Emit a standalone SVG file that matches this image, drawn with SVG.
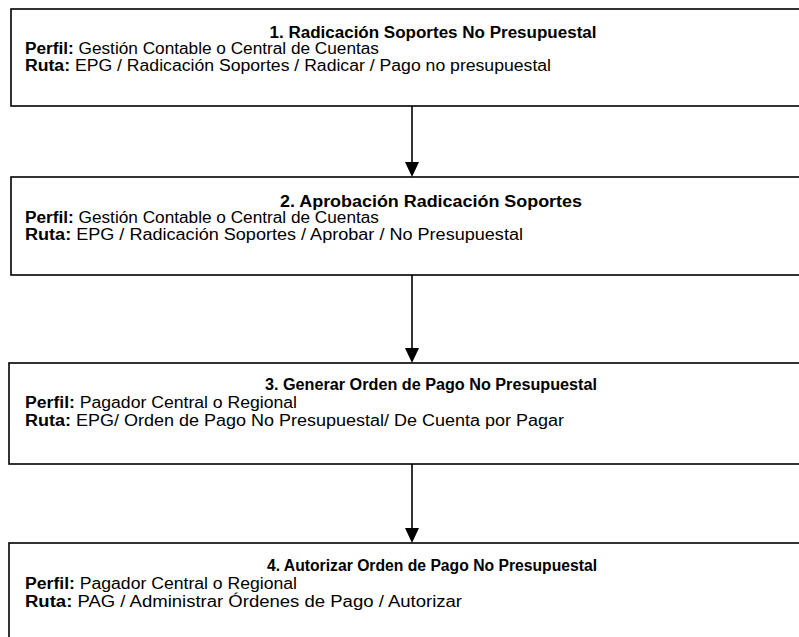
<svg xmlns="http://www.w3.org/2000/svg" width="799" height="637" viewBox="0 0 799 637">
<style>
.box{fill:#fff;stroke:#000;stroke-width:1.6}
text{font-family:"Liberation Sans",Arial,sans-serif;font-size:16px;fill:#000}
.t{font-weight:bold;text-anchor:middle}
.b{font-weight:bold}
.c{stroke:#000;stroke-width:1.6;fill:none}
</style>
<rect width="799" height="637" fill="#fff"/>
<g id="n1">
<rect class="box" x="11" y="9" width="900" height="97"/>
<text class="t" x="433" y="38" textLength="327" lengthAdjust="spacingAndGlyphs">1. Radicación Soportes No Presupuestal</text>
<text x="25" y="54" textLength="354" lengthAdjust="spacingAndGlyphs"><tspan class="b">Perfil:</tspan> Gestión Contable o Central de Cuentas</text>
<text x="25" y="71" textLength="526" lengthAdjust="spacingAndGlyphs"><tspan class="b">Ruta:</tspan> EPG / Radicación Soportes / Radicar / Pago no presupuestal</text>
</g>
<g id="n2">
<rect class="box" x="11" y="177" width="900" height="98"/>
<text class="t" x="431" y="207" textLength="302" lengthAdjust="spacingAndGlyphs">2. Aprobación Radicación Soportes</text>
<text x="25" y="223" textLength="354" lengthAdjust="spacingAndGlyphs"><tspan class="b">Perfil:</tspan> Gestión Contable o Central de Cuentas</text>
<text x="25" y="240" textLength="498" lengthAdjust="spacingAndGlyphs"><tspan class="b">Ruta:</tspan> EPG / Radicación Soportes / Aprobar / No Presupuestal</text>
</g>
<g id="n3">
<rect class="box" x="9" y="363" width="900" height="101"/>
<text class="t" x="431" y="390" textLength="332" lengthAdjust="spacingAndGlyphs">3. Generar Orden de Pago No Presupuestal</text>
<text x="25" y="408" textLength="272" lengthAdjust="spacingAndGlyphs"><tspan class="b">Perfil:</tspan> Pagador Central o Regional</text>
<text x="25" y="426" textLength="539" lengthAdjust="spacingAndGlyphs"><tspan class="b">Ruta:</tspan> EPG/ Orden de Pago No Presupuestal/ De Cuenta por Pagar</text>
</g>
<g id="n4">
<rect class="box" x="9" y="543" width="900" height="150"/>
<text class="t" x="432" y="571" textLength="330" lengthAdjust="spacingAndGlyphs">4. Autorizar Orden de Pago No Presupuestal</text>
<text x="25" y="589" textLength="272" lengthAdjust="spacingAndGlyphs"><tspan class="b">Perfil:</tspan> Pagador Central o Regional</text>
<text x="25" y="607" textLength="437" lengthAdjust="spacingAndGlyphs"><tspan class="b">Ruta:</tspan> PAG / Administrar Órdenes de Pago / Autorizar</text>
</g>
<g id="connectors">
<line class="c" x1="412" y1="106" x2="412" y2="165"/>
<path d="M405,162 L419,162 L412,177 Z" fill="#000"/>
<line class="c" x1="412" y1="275" x2="412" y2="351"/>
<path d="M405,348 L419,348 L412,363 Z" fill="#000"/>
<line class="c" x1="412" y1="464" x2="412" y2="531"/>
<path d="M405,528 L419,528 L412,543 Z" fill="#000"/>
</g>
</svg>
